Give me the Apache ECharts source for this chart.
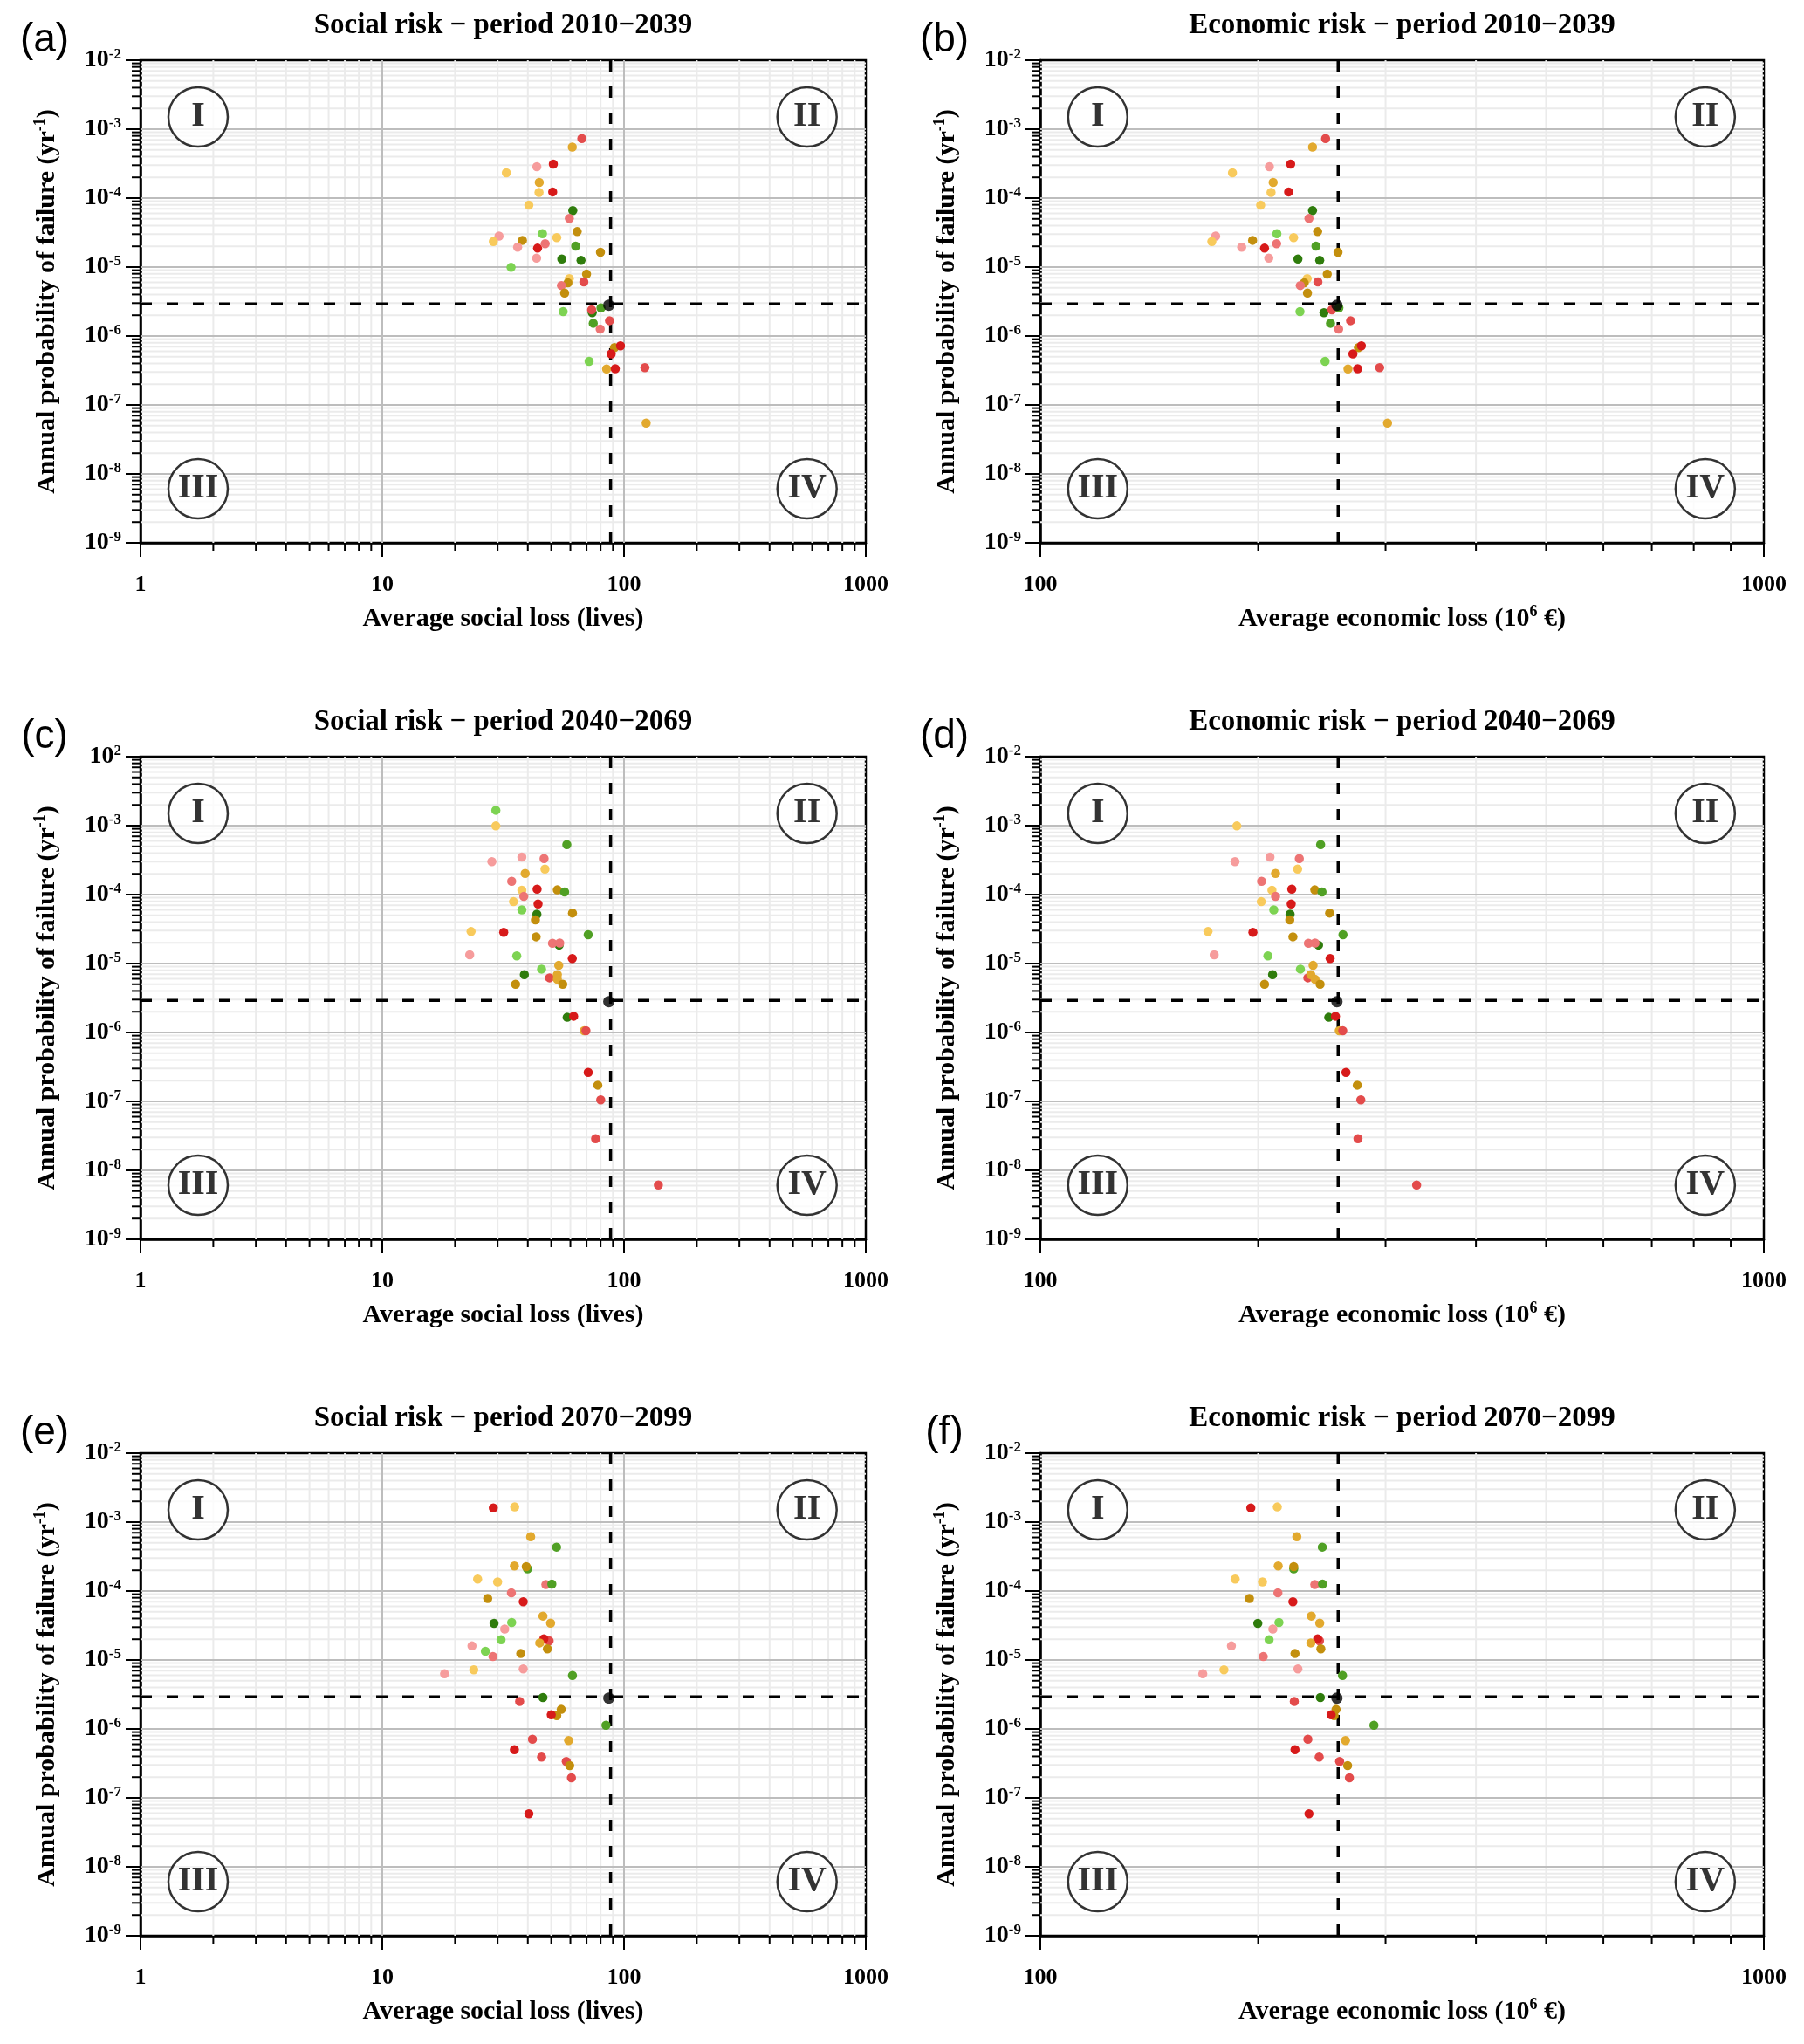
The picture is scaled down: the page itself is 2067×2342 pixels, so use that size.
<!DOCTYPE html>
<html><head><meta charset="utf-8">
<script src="https://cdn.jsdelivr.net/npm/echarts@6/dist/echarts.min.js"></script>
<style>html,body{margin:0;padding:0;background:#fff}#c{width:2067px;height:2342px}</style>
</head><body><div id="c"></div>
<script>
// ===================== DATA =====================
const titles = [
  'Social risk \u2212 period 2010\u22122039', 'Economic risk \u2212 period 2010\u22122039',
  'Social risk \u2212 period 2040\u22122069', 'Economic risk \u2212 period 2040\u22122069',
  'Social risk \u2212 period 2070\u22122099', 'Economic risk \u2212 period 2070\u22122099'
];
const panelLabels = ['(a)', '(b)', '(c)', '(d)', '(e)', '(f)'];
const quadrantLabels = ['I', 'II', 'III', 'IV'];
const socialTickLabels = ['1', '10', '100', '1000'];
const economicTickLabels = ['100', '1000'];
const yExponents = ['-9', '-8', '-7', '-6', '-5', '-4', '-3', '-2'];
const yExponentsC = ['-9', '-8', '-7', '-6', '-5', '-4', '-3', '2'];
const socialAxisName = 'Average social loss (lives)';
const economicAxisName = 'Average economic loss (10{s|6}{n| \u20ac)}';
const probAxisName = 'Annual probability of failure (yr{s|-1}{n|)}';

const socialThreshold = 88;
const economicThreshold = 258;
const probThreshold = 2.92e-6;
const refSocial = [86.5, 2.8e-6];
const refEconomic = [257, 2.8e-6];

// [average loss, annual probability, model group]
const social2010 = [
  [66.9,7.3e-4,'r2'],[61.1,5.5e-4,'y2'],[43.6,2.86e-4,'r4'],[51.0,3.12e-4,'r1'],[32.6,2.33e-4,'y3'],
  [44.6,1.69e-4,'y2'],[44.5,1.21e-4,'y3'],[50.7,1.23e-4,'r1'],[40.4,7.9e-5,'y3'],[61.4,6.6e-5,'g1'],
  [59.4,5.07e-5,'r3'],[46.0,3.05e-5,'g3'],[64.0,3.27e-5,'y1'],[30.4,2.82e-5,'r4'],[28.8,2.35e-5,'y3'],
  [38.0,2.44e-5,'y1'],[36.3,1.94e-5,'r4'],[43.9,1.88e-5,'r1'],[47.2,2.18e-5,'r3'],[52.7,2.67e-5,'y3'],
  [63.1,2.01e-5,'g2'],[79.9,1.64e-5,'y1'],[43.5,1.35e-5,'r4'],[55.3,1.31e-5,'g1'],[66.4,1.25e-5,'g1'],
  [34.1,9.9e-6,'g3'],[70.0,7.9e-6,'y1'],[59.4,6.8e-6,'y3'],[58.6,5.9e-6,'y1'],[55.1,5.4e-6,'r3'],
  [68.2,6.1e-6,'r2'],[56.8,4.2e-6,'y1'],[56.0,2.26e-6,'g3'],[73.9,2.18e-6,'g1'],[73.5,2.4e-6,'r2'],
  [80.3,2.56e-6,'g2'],[74.6,1.53e-6,'g2'],[87.1,1.67e-6,'r2'],[79.7,1.26e-6,'r3'],[91.3,6.8e-7,'y1'],
  [96.7,7.2e-7,'r1'],[88.5,5.5e-7,'r1'],[71.7,4.3e-7,'g3'],[84.7,3.33e-7,'y2'],[92.0,3.36e-7,'r1'],
  [122,3.47e-7,'r2'],[123.5,5.47e-8,'y2']
];
const economic2010 = [
  [247.9,7.3e-4,'r2'],[237.8,5.5e-4,'y2'],[207.3,2.86e-4,'r4'],[221.8,3.12e-4,'r1'],[184.3,2.33e-4,'y3'],
  [209.8,1.69e-4,'y2'],[208.4,1.21e-4,'y3'],[220.4,1.23e-4,'r1'],[201.6,7.9e-5,'y3'],[237.8,6.6e-5,'g1'],
  [235.1,5.07e-5,'r3'],[212.3,3.05e-5,'g3'],[241.7,3.27e-5,'y1'],[174.7,2.82e-5,'r4'],[172.6,2.35e-5,'y3'],
  [196.5,2.44e-5,'y1'],[189.8,1.94e-5,'r4'],[204.1,1.88e-5,'r1'],[212.1,2.18e-5,'r3'],[223.9,2.67e-5,'y3'],
  [240.4,2.01e-5,'g2'],[257.9,1.64e-5,'y1'],[206.9,1.35e-5,'r4'],[227.0,1.31e-5,'g1'],[243.3,1.25e-5,'g1'],
  [249.2,7.9e-6,'y1'],[233.8,6.8e-6,'y3'],[231.6,5.9e-6,'y1'],[228.7,5.4e-6,'r3'],[241.9,6.1e-6,'r2'],
  [234.0,4.2e-6,'y1'],[228.5,2.26e-6,'g3'],[246.6,2.18e-6,'g1'],[252.9,2.4e-6,'r2'],[258.6,2.56e-6,'g2'],
  [251.8,1.53e-6,'g2'],[268.4,1.67e-6,'r2'],[258.4,1.26e-6,'r3'],[275.2,6.8e-7,'y1'],[277.8,7.2e-7,'r1'],
  [270.4,5.5e-7,'r1'],[247.5,4.3e-7,'g3'],[266.2,3.33e-7,'y2'],[274.5,3.36e-7,'r1'],[294.4,3.47e-7,'r2'],
  [301.9,5.47e-8,'y2']
];
const social2040 = [
  [29.5,1.67e-3,'g3'],[29.5,9.9e-4,'y3'],[58.0,5.3e-4,'g2'],[28.4,3.0e-4,'r4'],[37.8,3.5e-4,'r4'],
  [46.7,3.33e-4,'r3'],[47.1,2.35e-4,'y3'],[39.0,2.03e-4,'y2'],[34.3,1.56e-4,'r3'],[37.8,1.16e-4,'y3'],
  [43.7,1.2e-4,'r1'],[53.0,1.17e-4,'y1'],[56.8,1.09e-4,'g2'],[38.5,9.4e-5,'r3'],[34.9,7.9e-5,'y3'],
  [44.1,7.3e-5,'r1'],[37.8,6.0e-5,'g3'],[43.6,5.2e-5,'g1'],[43.0,4.3e-5,'y1'],[61.2,5.4e-5,'y1'],
  [23.3,2.91e-5,'y3'],[31.8,2.83e-5,'r1'],[43.3,2.44e-5,'y1'],[71.1,2.62e-5,'g2'],[53.9,1.85e-5,'g1'],
  [50.6,1.97e-5,'r3'],[54.2,1.98e-5,'r3'],[23.0,1.34e-5,'r4'],[36.0,1.29e-5,'g3'],[61.1,1.18e-5,'r1'],
  [53.7,9.4e-6,'y2'],[45.6,8.3e-6,'g3'],[38.7,6.9e-6,'g1'],[49.2,6.2e-6,'r2'],[53.0,6.9e-6,'y2'],
  [53.0,5.9e-6,'y2'],[55.8,5.0e-6,'y1'],[35.6,5.0e-6,'y1'],[58.2,1.66e-6,'g1'],[61.9,1.72e-6,'r1'],
  [68.4,1.06e-6,'y2'],[69.6,1.06e-6,'r2'],[71.1,2.64e-7,'r1'],[77.9,1.72e-7,'y1'],[80.1,1.05e-7,'r2'],
  [76.3,2.88e-8,'r2'],[138.7,6.15e-9,'r2']
];
const economic2040 = [
  [186.9,9.9e-4,'y3'],[244.0,5.3e-4,'g2'],[185.8,3.0e-4,'r4'],[207.7,3.5e-4,'r4'],[228.0,3.33e-4,'r3'],
  [226.8,2.35e-4,'y3'],[211.4,2.03e-4,'y2'],[202.2,1.56e-4,'r3'],[209.0,1.16e-4,'y3'],[222.6,1.2e-4,'r1'],
  [239.5,1.17e-4,'y1'],[245.1,1.09e-4,'g2'],[211.4,9.4e-5,'r3'],[202.0,7.9e-5,'y3'],[222.2,7.3e-5,'r1'],
  [210.2,6.0e-5,'g3'],[221.4,5.2e-5,'g1'],[221.2,4.3e-5,'y1'],[251.1,5.4e-5,'y1'],[170.5,2.91e-5,'y3'],
  [196.7,2.83e-5,'r1'],[223.4,2.44e-5,'y1'],[262.0,2.62e-5,'g2'],[242.4,1.85e-5,'g1'],[234.7,1.97e-5,'r3'],
  [239.7,1.98e-5,'r3'],[173.9,1.34e-5,'r4'],[206.3,1.29e-5,'g3'],[251.5,1.18e-5,'r1'],[238.2,9.4e-6,'y2'],
  [228.8,8.3e-6,'g3'],[209.4,6.9e-6,'g1'],[234.3,6.2e-6,'r2'],[236.5,6.9e-6,'y2'],[239.7,5.9e-6,'y2'],
  [243.6,5.0e-6,'y1'],[204.1,5.0e-6,'y1'],[250.4,1.66e-6,'g1'],[255.8,1.72e-6,'r1'],[258.9,1.06e-6,'y2'],
  [261.8,1.06e-6,'r2'],[264.5,2.64e-7,'r1'],[274.2,1.72e-7,'y1'],[277.3,1.05e-7,'r2'],[274.8,2.88e-8,'r2'],
  [331.2,6.15e-9,'r2']
];
const social2070 = [
  [28.8,1.61e-3,'r1'],[35.3,1.66e-3,'y3'],[41.1,6.15e-4,'y2'],[52.6,4.34e-4,'g2'],[35.2,2.31e-4,'y2'],
  [39.9,2.1e-4,'g2'],[39.4,2.26e-4,'y1'],[24.8,1.49e-4,'y3'],[30.0,1.36e-4,'y3'],[47.5,1.24e-4,'r3'],
  [50.3,1.26e-4,'g2'],[34.2,9.4e-5,'r3'],[27.3,7.8e-5,'y1'],[38.3,7.0e-5,'r1'],[46.2,4.34e-5,'y2'],
  [49.7,3.43e-5,'y2'],[29.0,3.4e-5,'g1'],[34.3,3.5e-5,'g3'],[32.1,2.82e-5,'r4'],[31.0,1.97e-5,'g3'],
  [49.0,1.9e-5,'r2'],[46.6,2.03e-5,'r1'],[44.8,1.77e-5,'y2'],[23.5,1.6e-5,'r4'],[26.7,1.34e-5,'g3'],
  [48.2,1.45e-5,'y1'],[28.7,1.12e-5,'r3'],[37.4,1.24e-5,'y1'],[18.1,6.3e-6,'r4'],[23.9,7.2e-6,'y3'],
  [38.3,7.4e-6,'r4'],[61.2,5.97e-6,'g2'],[46.2,2.86e-6,'g1'],[37.0,2.5e-6,'r2'],[55.0,1.92e-6,'y1'],
  [52.7,1.56e-6,'y1'],[50.0,1.6e-6,'r1'],[84.2,1.13e-6,'g2'],[41.8,7.1e-7,'r2'],[59.0,6.8e-7,'y2'],
  [35.2,5.0e-7,'r1'],[45.6,3.9e-7,'r2'],[57.7,3.37e-7,'r2'],[59.6,2.94e-7,'y1'],[60.6,1.95e-7,'r2'],
  [40.4,5.86e-8,'r1']
];
const economic2070 = [
  [195.4,1.61e-3,'r1'],[212.6,1.66e-3,'y3'],[226.2,6.15e-4,'y2'],[245.3,4.34e-4,'g2'],[213.2,2.31e-4,'y2'],
  [224.0,2.1e-4,'g2'],[224.0,2.26e-4,'y1'],[185.9,1.49e-4,'y3'],[202.8,1.36e-4,'y3'],[239.5,1.24e-4,'r3'],
  [245.5,1.26e-4,'g2'],[213.0,9.4e-5,'r3'],[194.5,7.8e-5,'y1'],[223.4,7.0e-5,'r1'],[236.9,4.34e-5,'y2'],
  [243.3,3.43e-5,'y2'],[199.8,3.4e-5,'g1'],[213.7,3.5e-5,'g3'],[209.6,2.82e-5,'r4'],[207.1,1.97e-5,'g3'],
  [243.1,1.9e-5,'r2'],[241.7,2.03e-5,'r1'],[236.5,1.77e-5,'y2'],[183.7,1.6e-5,'r4'],[244.2,1.45e-5,'y1'],
  [203.3,1.12e-5,'r3'],[224.9,1.24e-5,'y1'],[167.7,6.3e-6,'r4'],[179.4,7.2e-6,'y3'],[227.0,7.4e-6,'r4'],
  [261.6,5.97e-6,'g2'],[243.8,2.86e-6,'g1'],[224.4,2.5e-6,'r2'],[256.3,1.92e-6,'y1'],[254.7,1.56e-6,'y1'],
  [252.3,1.6e-6,'r1'],[289.1,1.13e-6,'g2'],[234.3,7.1e-7,'r2'],[264.1,6.8e-7,'y2'],[224.9,5.0e-7,'r1'],
  [242.9,3.9e-7,'r2'],[259.2,3.37e-7,'r2'],[265.9,2.94e-7,'y1'],[267.4,1.95e-7,'r2'],[235.1,5.86e-8,'r1']
];

// ===================== STYLE / LAYOUT =====================
const groupColors = {
  g1: '#2f7c0c', g2: '#50a024', g3: '#7dd352',
  y1: '#c38f0d', y2: '#e2a92e', y3: '#f8ca5c',
  r1: '#d71a1a', r2: '#e34b4b', r3: '#ed7474', r4: '#f69c9c'
};
const SERIF = '"Liberation Serif","Times New Roman",serif';
const SANS = '"Liberation Sans",Arial,sans-serif';
const cols = [{ left: 161, width: 831 }, { left: 1192, width: 829 }];
const rowsTop = [69, 867, 1665];
const plotH = 553;
const yRange = [1e-9, 1e-2];
const socialRange = [1, 1000];
const economicRange = [100, 1000];

const panels = [
  { data: social2010, kind: 'social', exps: yExponents },
  { data: economic2010, kind: 'economic', exps: yExponents },
  { data: social2040, kind: 'social', exps: yExponentsC },
  { data: economic2040, kind: 'economic', exps: yExponents },
  { data: social2070, kind: 'social', exps: yExponents },
  { data: economic2070, kind: 'economic', exps: yExponents }
];

function decadeMinors(lo, hi) {
  const out = [];
  for (let d = Math.round(Math.log10(lo)); d < Math.round(Math.log10(hi)); d++) {
    for (let k = 2; k <= 9; k++) out.push(k * Math.pow(10, d));
  }
  return out;
}
function decadeMajors(lo, hi) {
  const out = [];
  for (let d = Math.round(Math.log10(lo)) + 1; d < Math.round(Math.log10(hi)); d++) out.push(Math.pow(10, d));
  return out;
}
function logFrac(r, f) {
  const a = Math.log10(r[0]), b = Math.log10(r[1]);
  return Math.pow(10, a + f * (b - a));
}

const grids = [], xAxes = [], yAxes = [], series = [], graphics = [];
const dashStyle = { color: '#000', width: 3.5, type: [13, 17] };

panels.forEach((p, i) => {
  const col = cols[i % 2];
  const top = rowsTop[Math.floor(i / 2)];
  const isSocial = p.kind === 'social';
  const xr = isSocial ? socialRange : economicRange;
  const tickLabels = isSocial ? socialTickLabels : economicTickLabels;
  const thr = isSocial ? socialThreshold : economicThreshold;
  const ref = isSocial ? refSocial : refEconomic;

  grids.push({ left: col.left, top: top, width: col.width, height: plotH, show: true,
    borderColor: '#000', borderWidth: 2.5, backgroundColor: 'transparent' });

  xAxes.push({
    gridIndex: i, type: 'log', logBase: 10, min: xr[0], max: xr[1],
    axisLine: { show: true, onZero: false, lineStyle: { color: '#000', width: 2.5 } },
    axisTick: { show: true, length: 16, lineStyle: { color: '#000', width: 2 } },
    splitLine: { show: false },
    axisLabel: {
      color: '#000', fontFamily: SERIF, fontWeight: 'bold', fontSize: 26, margin: 35,
      formatter: v => tickLabels[Math.round(Math.log10(v)) - Math.round(Math.log10(xr[0]))] || ''
    },
    name: isSocial ? socialAxisName : economicAxisName,
    nameLocation: 'middle', nameGap: 70,
    nameTextStyle: {
      color: '#000', fontFamily: SERIF, fontWeight: 'bold', fontSize: 30, lineHeight: 34,
      rich: {
        n: { color: '#000', fontFamily: SERIF, fontWeight: 'bold', fontSize: 30, lineHeight: 34 },
        s: { color: '#000', fontFamily: SERIF, fontWeight: 'bold', fontSize: 18, lineHeight: 18, verticalAlign: 'top' }
      }
    }
  });

  yAxes.push({
    gridIndex: i, type: 'log', logBase: 10, min: yRange[0], max: yRange[1],
    axisLine: { show: true, onZero: false, lineStyle: { color: '#000', width: 2.5 } },
    axisTick: { show: true, length: 17, lineStyle: { color: '#000', width: 2 } },
    splitLine: { show: false },
    axisLabel: {
      margin: 22,
      formatter: v => '{b|10}{s|' + p.exps[Math.round(Math.log10(v)) + 9] + '}',
      rich: {
        b: { color: '#000', fontFamily: SERIF, fontWeight: 'bold', fontSize: 28, lineHeight: 30 },
        s: { color: '#000', fontFamily: SERIF, fontWeight: 'bold', fontSize: 17, lineHeight: 15, verticalAlign: 'top' }
      }
    },
    name: probAxisName, nameLocation: 'middle', nameGap: 90, nameRotate: 90,
    nameTextStyle: {
      color: '#000', fontFamily: SERIF, fontWeight: 'bold', fontSize: 30, lineHeight: 34,
      rich: {
        n: { color: '#000', fontFamily: SERIF, fontWeight: 'bold', fontSize: 30, lineHeight: 34 },
        s: { color: '#000', fontFamily: SERIF, fontWeight: 'bold', fontSize: 18, lineHeight: 18, verticalAlign: 'top' }
      }
    }
  });

  // grid lines (minor first, then major) + minor ticks
  const gridItems = [];
  decadeMinors(xr[0], xr[1]).forEach(v => gridItems.push([v, yRange[0], 0]));
  decadeMinors(yRange[0], yRange[1]).forEach(v => gridItems.push([xr[0], v, 1]));
  decadeMajors(xr[0], xr[1]).forEach(v => gridItems.push([v, yRange[0], 2]));
  decadeMajors(yRange[0], yRange[1]).forEach(v => gridItems.push([xr[0], v, 3]));
  series.push({
    type: 'custom', xAxisIndex: i, yAxisIndex: i, silent: true, clip: false, z: 1,
    data: gridItems,
    renderItem: (params, api) => {
      const v = api.value(0), w = api.value(1), kind = api.value(2);
      let a, b;
      if (kind === 0 || kind === 2) { a = api.coord([v, yRange[1]]); b = api.coord([v, yRange[0]]); }
      else { a = api.coord([xr[0], w]); b = api.coord([xr[1], w]); }
      const major = kind >= 2;
      const children = [{ type: 'line', shape: { x1: a[0], y1: a[1], x2: b[0], y2: b[1] },
        style: { stroke: major ? '#bdbdbd' : '#ebebeb', lineWidth: 2 } }];
      if (kind === 0) children.push({ type: 'line', shape: { x1: b[0], y1: b[1], x2: b[0], y2: b[1] + 9 }, style: { stroke: '#000', lineWidth: 2 } });
      if (kind === 1) children.push({ type: 'line', shape: { x1: a[0] - 10, y1: a[1], x2: a[0], y2: a[1] }, style: { stroke: '#000', lineWidth: 2 } });
      return { type: 'group', children };
    }
  });

  // threshold dashed lines
  series.push({
    type: 'line', xAxisIndex: i, yAxisIndex: i, z: 2, silent: true, symbol: 'none',
    lineStyle: dashStyle, data: [[thr, yRange[0]], [thr, yRange[1]]]
  });
  series.push({
    type: 'line', xAxisIndex: i, yAxisIndex: i, z: 2, silent: true, symbol: 'none',
    lineStyle: dashStyle, data: [[xr[0], probThreshold], [xr[1], probThreshold]]
  });

  // scenario points
  series.push({
    type: 'scatter', xAxisIndex: i, yAxisIndex: i, z: 3, symbolSize: 10.5, silent: true,
    data: p.data.map(d => ({ value: [d[0], d[1]], itemStyle: { color: groupColors[d[2]], opacity: 1 } }))
  });

  // reference point
  series.push({
    type: 'scatter', xAxisIndex: i, yAxisIndex: i, z: 4, symbolSize: 13, silent: true,
    itemStyle: { color: '#000' }, data: [ref]
  });

  // quadrant labels
  const qf = [[0.0794, 0.8825], [0.919, 0.8825], [0.0794, 0.112], [0.919, 0.112]];
  series.push({
    type: 'scatter', xAxisIndex: i, yAxisIndex: i, z: 5, silent: true,
    symbol: 'circle', symbolSize: 68,
    itemStyle: { color: '#fff', borderColor: '#000', borderWidth: 2.5 },
    label: { show: true, position: 'inside', color: '#000', fontFamily: SERIF, fontWeight: 'bold', fontSize: 40,
      formatter: prm => prm.name },
    data: quadrantLabels.map((q, k) => ({ name: q, value: [logFrac(xr, qf[k][0]), logFrac(yRange, qf[k][1])] }))
  });

  graphics.push({ type: 'text', x: col.left + col.width / 2, y: top - 40, silent: true,
    style: { text: titles[i], fill: '#000', font: 'bold 33px ' + SERIF, textAlign: 'center', textVerticalAlign: 'middle' } });
  graphics.push({ type: 'text', x: col.left - 110, y: top - 23, silent: true,
    style: { text: panelLabels[i], fill: '#000', font: '46px ' + SANS, textAlign: 'center', textVerticalAlign: 'middle' } });
});

const chart = echarts.init(document.getElementById('c'), null, { renderer: 'canvas' });
chart.setOption({
  animation: false,
  backgroundColor: '#fff',
  grid: grids, xAxis: xAxes, yAxis: yAxes, series: series, graphic: graphics
});
</script></body></html>
